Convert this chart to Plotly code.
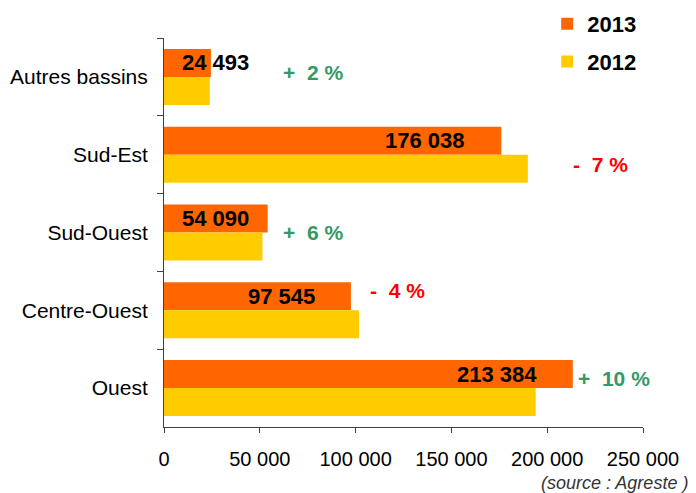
import plotly.graph_objects as go

categories = ["Autres bassins", "Sud-Est", "Sud-Ouest", "Centre-Ouest", "Ouest"]
values_2013 = [24493, 176038, 54090, 97545, 213384]
values_2012 = [23900, 189900, 51400, 101800, 194000]
changes = ["+  2 %", "-  7 %", "+  6 %", "-  4 %", "+  10 %"]
x_ticks = [0, 50000, 100000, 150000, 200000, 250000]

ORANGE = "#FF6600"
YELLOW = "#FFCC00"
GREEN = "#339966"
RED = "#FF0000"
AXIS = "#404040"
FONT = "Liberation Sans, Arial, sans-serif"

fig = go.Figure()
fig.add_trace(go.Bar(y=categories, x=values_2013, orientation="h", name="2013",
                     marker=dict(color=ORANGE, line=dict(width=0)),
                     legendgroup="a"))
fig.add_trace(go.Bar(y=categories, x=values_2012, orientation="h", name="2012",
                     marker=dict(color=YELLOW, line=dict(width=0)),
                     legendgroup="b"))

annotations = []
# value labels for 2013 bars
for cat, v in zip(categories, values_2013):
    label = f"{v:,}".replace(",", " ")
    if v < 60000:
        annotations.append(dict(x=0, y=cat, text=label, xanchor="left", xshift=16,
                                yshift=14, showarrow=False,
                                font=dict(family=FONT, size=22, color="black", weight="bold")))
    else:
        annotations.append(dict(x=v, y=cat, text=label, xanchor="right", xshift=-34,
                                yshift=14, showarrow=False,
                                font=dict(family=FONT, size=22, color="black", weight="bold")))

# change labels (hand-placed in the reference)
change_pos = [(78000, 4), (228000, -10), (78000, 0), (122000, 20), (235000, 10)]
for cat, txt, (px, dy) in zip(categories, changes, change_pos):
    col = GREEN if txt.startswith("+") else RED
    annotations.append(dict(x=px, y=cat, text=txt, xanchor="center", yshift=dy,
                            showarrow=False,
                            font=dict(family=FONT, size=21, color=col, weight="bold")))

annotations.append(dict(x=1, y=0, xref="paper", yref="paper", xanchor="right", yanchor="middle",
                        text="<i>(source : Agreste )</i>", showarrow=False, yshift=-56, xshift=47,
                        font=dict(family=FONT, size=18, color="#333333")))

fig.update_layout(
    width=688, height=485,
    margin=dict(l=156, r=53, t=30, b=66, autoexpand=False),
    paper_bgcolor="white", plot_bgcolor="white",
    barmode="group", bargap=0.28, bargroupgap=0,
    separators=", ",
    font=dict(family=FONT, size=20, color="black"),
    showlegend=True,
    legend=dict(x=0.80, y=1.09, xanchor="left", yanchor="top",
                font=dict(family=FONT, size=22, color="black", weight="bold"),
                traceorder="grouped", tracegroupgap=6, bgcolor="rgba(0,0,0,0)"),
    annotations=annotations,
)
fig.update_xaxes(range=[0, 250000], tickvals=x_ticks, tickformat=",d",
                 showline=True, linecolor=AXIS, linewidth=1,
                 ticks="outside", ticklen=5, tickcolor=AXIS,
                 showgrid=False, zeroline=False, ticklabelstandoff=9,
                 tickfont=dict(family=FONT, size=20, color="black"))
fig.update_yaxes(autorange="reversed", showline=True, linecolor=AXIS, linewidth=1,
                 ticks="outside", ticklen=6, tickcolor=AXIS, tickson="boundaries",
                 showgrid=False, zeroline=False, ticklabelstandoff=11,
                 tickfont=dict(family=FONT, size=21, color="black"))

fig.write_html("out.html")
